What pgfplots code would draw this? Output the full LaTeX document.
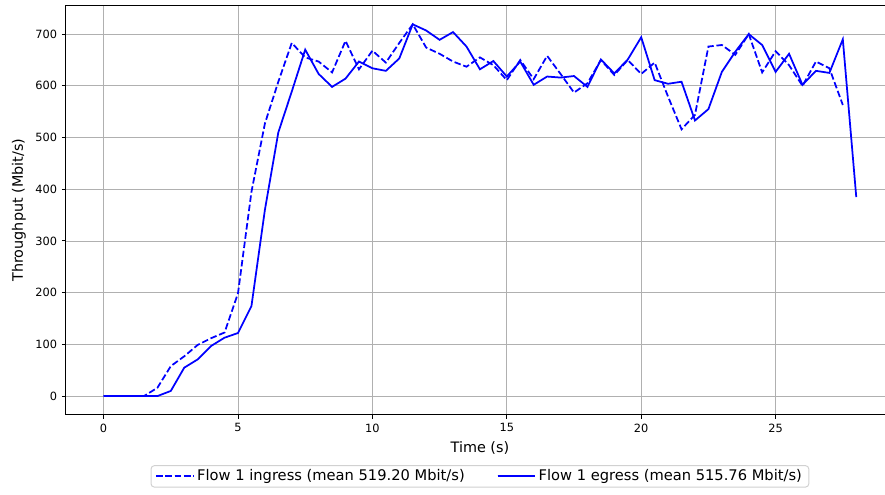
\documentclass[border=0pt]{standalone}
\usepackage{pgfplots}
\pgfplotsset{compat=1.18}
\usepackage{fontspec}
\setmainfont{DejaVu Sans}
\definecolor{mblue}{HTML}{0000FF}
\begin{document}
\begin{tikzpicture}
\path[use as bounding box] (-47.5bp,-57.2bp) rectangle (589.7bp,298.6bp);
\begin{axis}[
  at={(0,0)}, anchor=south west,
  scale only axis,
  width=596.1bp, height=294.5bp,
  xmin=-1.4, xmax=29.4, ymin=-36, ymax=755,
  xtick={0,5,...,25}, ytick={0,100,...,700},
  grid=major, grid style={color=black!31, line width=0.67bp},
  axis line style={line width=0.72bp},
  tick style={black, line width=0.72bp},
  tick align=outside, major tick length=2.9bp,
  tick pos=left,
  ticklabel style={font=\fontsize{8.2}{10}\selectfont},
  /pgf/number format/assume math mode=true,
  xlabel={Time (s)}, ylabel={Throughput (Mbit/s)},
  label style={font=\fontsize{10.4}{12}\selectfont},
  legend style={at={(0.5,-0.1232)}, anchor=north, legend columns=2,
    draw=black!18, rounded corners=2.5bp, line width=0.7bp,
    font=\fontsize{10.6}{13}\selectfont, inner xsep=3bp, inner ysep=1bp,
    /tikz/every even column/.append style={column sep=21bp}},
  legend cell align=left,
  legend image code/.code={\draw[#1] (0bp,0bp) -- (21.1bp,0bp); \path (0bp,0bp) -- (27bp,0bp);},
]
\addplot[mblue, line width=1.26bp, dash pattern=on 4.7bp off 2bp] table {
0 0
0.5 0
1 0
1.5 0
2 16
2.5 58
3 77
3.5 99
4 112
4.5 123
5 199
5.5 395
6 527
6.5 608
7 683
7.5 655
8 647
8.5 626
9 687
9.5 632
10 668
10.5 645
11 683
11.5 719
12 674
12.5 662
13 647
13.5 637
14 655
14.5 640
15 611
15.5 650
16 613
16.5 658
17 623
17.5 587
18 605
18.5 650
19 621
19.5 650
20 623
20.5 645
21 579
21.5 516
22 544
22.5 676
23 679
23.5 660
24 700
24.5 626
25 667
25.5 640
26 600
26.5 647
27 634
27.5 563
};
\addlegendentry{Flow 1 ingress (mean 519.20 Mbit/s)}
\addplot[mblue, line width=1.26bp] table {
0 0
0.5 0
1 0
1.5 0
2 0
2.5 10
3 55
3.5 71
4 97
4.5 113
5 122
5.5 174
6 360
6.5 510
7 589
7.5 670
8 623
8.5 598
9 614
9.5 647
10 634
10.5 629
11 653
11.5 719
12 707
12.5 689
13 704
13.5 676
14 632
14.5 648
15 618
15.5 647
16 602
16.5 618
17 616
17.5 619
18 598
18.5 651
19 624
19.5 651
20 694
20.5 611
21 604
21.5 608
22 533
22.5 555
23 627
23.5 666
24 700
24.5 679
25 627
25.5 662
26 602
26.5 629
27 625
27.5 690
28 385
};
\addlegendentry{Flow 1 egress (mean 515.76 Mbit/s)}
\end{axis}
\end{tikzpicture}
\end{document}
